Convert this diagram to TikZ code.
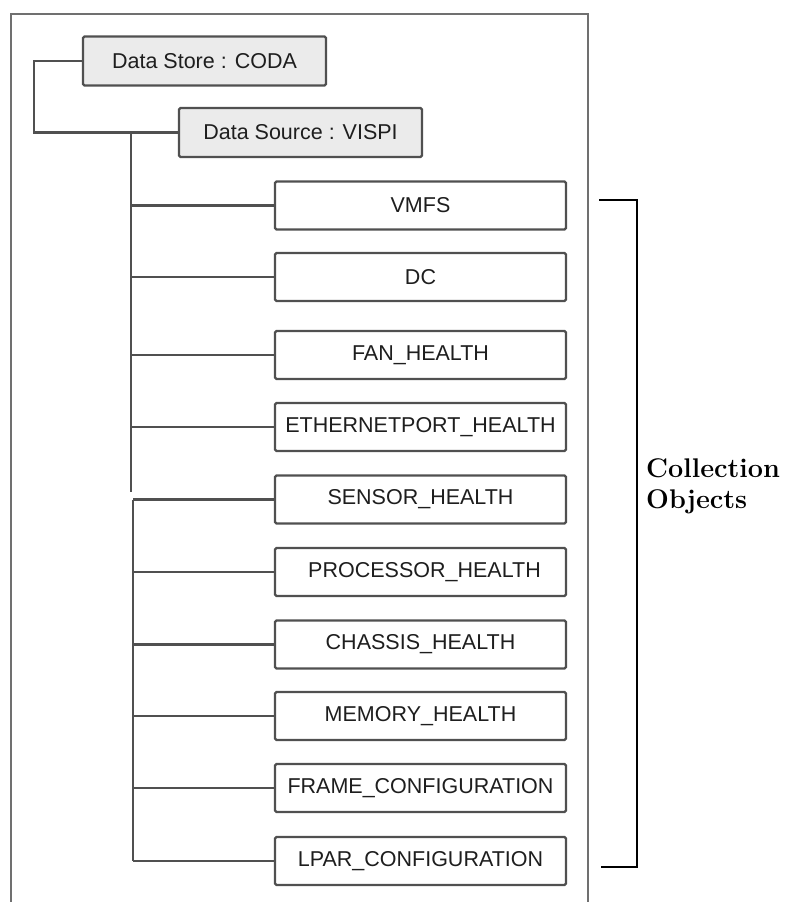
\documentclass[tikz,border=0pt]{standalone}
\usepackage{fontspec}
\newfontfamily\arialf{Liberation Sans}
\begin{document}
\begin{tikzpicture}[x=1pt,y=-1pt,
  box/.style={draw=boxline, line width=2.2pt, rounded corners=1.5pt, fill=white,
    minimum width=291pt, minimum height=48pt, inner sep=0pt,
    font=\arialf\fontsize{21.5}{24}\selectfont, text=txt},
  topbox/.style={box, fill=topfill, minimum width=243pt, minimum height=49pt},
  wire/.style={draw=boxline, line width=2.2pt},
  frameline/.style={draw=framecol, line width=2pt},
  bracketline/.style={draw=black, line width=2.4pt}]
\definecolor{boxline}{HTML}{505050}
\definecolor{framecol}{HTML}{707070}
\definecolor{topfill}{HTML}{EBEBEB}
\definecolor{txt}{HTML}{1E1E1E}
\useasboundingbox (0,0) rectangle (790,902);
\fill[white] (0,0) rectangle (790,902);
% outer frame (open at the bottom)
\draw[frameline] (10.5,903) -- (10.5,14) -- (588,14) -- (588,903);
% top boxes
\node[topbox] (store) at (204.5,61) {Data Store : CODA};
\node[topbox] (source) at (300.5,132.5) {Data Source : VISPI};
% collection boxes
\node[box] (vmfs) at (420.5,205.5) {VMFS};
\node[box] (dc) at (420.5,277) {DC};
\node[box] (fan) at (420.5,355) {FAN\_HEALTH};
\node[box] (eth) at (420.5,427) {ETHERNETPORT\_HEALTH};
\node[box] (sensor) at (420.5,499.5) {SENSOR\_HEALTH};
\node[box] (proc) at (420.5,572) {\hspace*{8pt}PROCESSOR\_HEALTH};
\node[box] (chassis) at (420.5,644.5) {CHASSIS\_HEALTH};
\node[box] (memory) at (420.5,716) {MEMORY\_HEALTH};
\node[box] (frame) at (420.5,788) {FRAME\_CONFIGURATION};
\node[box] (lpar) at (420.5,861) {LPAR\_CONFIGURATION};
% connectors
\coordinate (elbow) at (34,61);
\draw[wire] (store.west) -- (elbow) |- (source.west);
\coordinate (tA) at (131,132.5);
\coordinate (tB) at (131,492);
\coordinate (tC) at (133,499.5);
\coordinate (tD) at (133,861);
\draw[wire] (tA) -- (tB);
\draw[wire] (tC) -- (tD);
\foreach \n in {vmfs,dc,fan,eth}{
  \draw[wire] (tA |- \n.west) -- (\n.west);
}
\foreach \n in {sensor,proc,chassis,memory,frame,lpar}{
  \draw[wire] (tC |- \n.west) -- (\n.west);
}
% bracket
\coordinate (bTop) at (599,200);
\coordinate (bBot) at (601,867);
\draw[bracketline] (bTop) -- (637,200) -- (637,867) -- (bBot);
\node[anchor=west, align=left, inner sep=0pt, font=\bfseries\fontsize{27}{31}\selectfont] (label) at (646,486) {Collection\\Objects};
\end{tikzpicture}
\end{document}
